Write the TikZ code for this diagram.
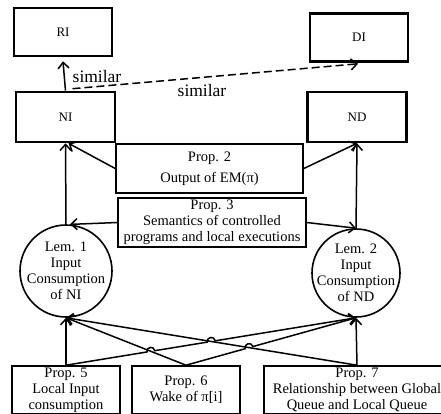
\documentclass[tikz,border=0pt]{standalone}
\usepackage{fontspec}
\setmainfont{Liberation Serif}
\usetikzlibrary{arrows.meta,calc,intersections}
\begin{document}
\begin{tikzpicture}[x=1pt,y=-1pt,
  bigbox/.style={draw,line width=2.6pt,minimum width=98pt,minimum height=48pt,inner sep=0pt,font=\fontsize{13}{15}\selectfont},
  propbox/.style={draw,line width=1.6pt,minimum height=49pt,inner sep=0pt,align=center,font=\fontsize{14.5}{16}\selectfont},
  lemcirc/.style={draw,circle,line width=1.6pt,inner sep=0pt},
  lemtext/.style={align=center,inner sep=0pt,font=\fontsize{14.5}{16}\selectfont},
  simlab/.style={inner sep=0pt,font=\fontsize{17.5}{20}\selectfont},
  arr/.style={line width=1.5pt,-{Straight Barb[length=6pt,width=11pt]}},
  hop/.style={bend left=90,looseness=1.7}]
\clip (0,0) rectangle (441,413);
% top boxes
\node[bigbox] (ri) at (63,32) {RI};
\node[bigbox] (di) at (359,37.5) {DI};
\node[bigbox,minimum height=50pt,minimum width=99pt] (ni) at (65.5,117) {NI};
\node[bigbox,minimum height=50pt,minimum width=99pt] (nd) at (357,117) {ND};
% propositions
\node[propbox,minimum width=187pt] (prop2) at (209.5,168.5) {Prop. 2\\[5pt]Output of EM(π)};
\node[propbox,minimum width=188pt] (prop3) at (212,222.5) {Prop. 3\\Semantics of controlled\\programs and local executions};
% lemmas
\node[lemcirc,minimum size=92pt] (lem1) at (66,271) {};
\node[lemtext] (lem1t) at (lem1) {Lem. 1\\Input\\Consumption\\of NI};
\node[lemcirc,minimum size=88pt] (lem2) at (356,273) {};
\node[lemtext] (lem2t) at (lem2) {Lem. 2\\Input\\Consumption\\of ND};
% bottom boxes
\node[propbox,minimum width=108pt,minimum height=48pt] (p5) at (66,390) {Prop. 5\\Local Input\\consumption};
\node[propbox,minimum width=108pt,minimum height=48pt] (p6) at (186,390) {Prop. 6\\Wake of π[i]};
\node[propbox,minimum width=186pt,minimum height=48pt] (p7) at (357,390) {Prop. 7\\Relationship between Global\\Queue and Local Queue};
% similar arrows
\coordinate (riend) at ($(ri.south)+(0,4)$);
\draw[arr] (ni.north) -- (riend);
\node[simlab] (sim1) at (97,77) {similar};
\coordinate (dstart) at ($(ni.north)+(7,-2)$);
\coordinate (dend) at ($(di.south)+(-1,1)$);
\draw[arr,dash pattern=on 8pt off 4pt] (dstart) -- (dend);
\node[simlab] (sim2) at (202,91) {similar};
% upper arrows
\draw[arr] (lem1.north) -- (ni.south);
\draw[arr] (lem2.north) -- (nd.south);
\draw[arr] (prop2.west) -- ($(ni.south)+(3,0)$);
\draw[arr] (prop2.east) -- (nd.south);
\draw[arr] (prop3.west) -- (lem1.85);
\draw[arr] (prop3.east) -- (lem2.north);
% bottom arrows
\draw[arr] (p5.north) -- (lem1.south);
\draw[arr] (p7.north) -- (lem2.south);
\draw[arr,name path=l2] (p6.north) -- (lem1.south);
\draw[arr,name path=l4] (p7.north) -- (lem1.south);
\path[name path=l1] (p5.north) -- (lem2.south);
\path[name path=l3] (p6.north) -- (lem2.south);
\path[name intersections={of=l1 and l2,by=xa}];
\path[name intersections={of=l1 and l4,by=xb}];
\path[name intersections={of=l3 and l4,by=xc}];
\draw[arr] (p5.north) -- ($(xa)!4pt!(p5.north)$) to[hop] ($(xa)!4pt!(lem2.south)$)
  -- ($(xb)!4pt!(p5.north)$) to[hop] ($(xb)!4pt!(lem2.south)$) -- (lem2.south);
\draw[arr] (p6.north) -- ($(xc)!4pt!(p6.north)$) to[hop] ($(xc)!4pt!(lem2.south)$) -- (lem2.south);
\end{tikzpicture}
\end{document}
